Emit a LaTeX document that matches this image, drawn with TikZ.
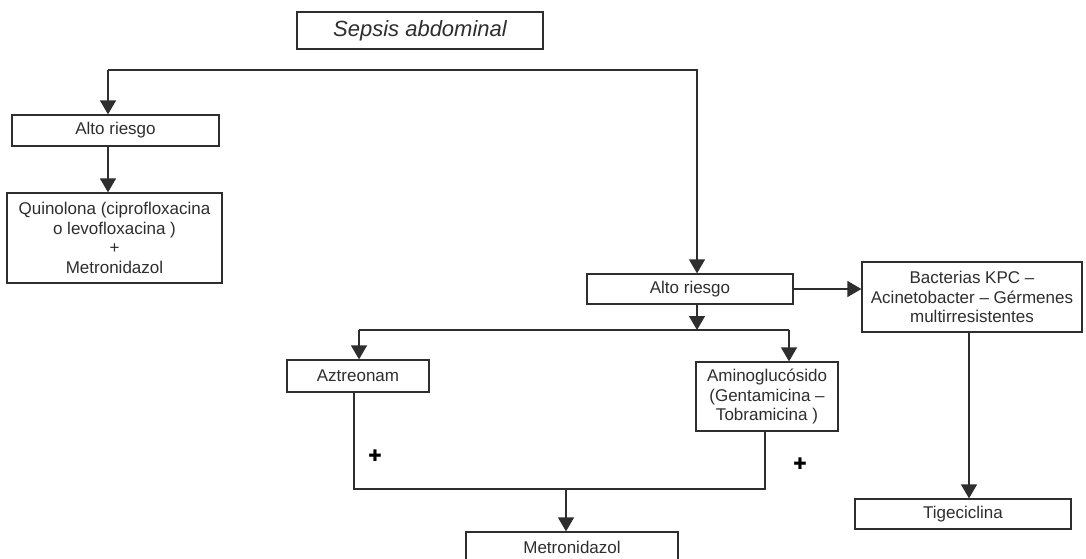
\documentclass[tikz,border=0pt]{standalone}
\usepackage{fontspec}
\setmainfont{Liberation Sans}
\newfontfamily\symfont{DejaVu Sans}
\usetikzlibrary{arrows.meta}
\definecolor{ink}{HTML}{2E2E2E}
\begin{document}
\begin{tikzpicture}[x=1pt,y=-1pt,
  box/.style={draw=ink, line width=1.3pt, text=ink, align=center, inner sep=0pt,
    font=\fontsize{17}{19.5}\selectfont},
  link/.style={draw=ink, line width=1.4pt},
  arr/.style={link, -{Triangle[width=16pt,length=14pt]}},
  plus/.style={text=black, font=\symfont\fontsize{16}{16}\selectfont, inner sep=0pt}]
\clip (0,0) rectangle (1086,559);
\fill[white] (0,0) rectangle (1086,559);

% boxes
\node[box, minimum width=246pt, minimum height=37pt, font=\fontsize{22}{26}\selectfont\itshape]
  (sepsis) at (420,30.5) {Sepsis abdominal};
\node[box, minimum width=207pt, minimum height=31pt] (altoL) at (115.5,130.5) {Alto riesgo};
\node[box, minimum width=215pt, minimum height=90pt] (quin) at (114.5,238)
  {Quinolona (ciprofloxacina\\o levofloxacina )\\+\\Metronidazol};
\node[box, minimum width=206pt, minimum height=30pt] (altoR) at (690,289) {Alto riesgo};
\node[box, minimum width=220pt, minimum height=70pt] (kpc) at (972,297)
  {Bacterias KPC --\\Acinetobacter -- Gérmenes\\multirresistentes};
\node[box, minimum width=142pt, minimum height=32pt] (azt) at (358,376) {Aztreonam};
\node[box, minimum width=142pt, minimum height=69pt] (amino) at (767,396.5)
  {Aminoglucósido\\(Gentamicina --\\Tobramicina )};
\node[box, minimum width=212pt, minimum height=30pt] (metro) at (572,547) {Metronidazol};
\node[box, minimum width=216pt, minimum height=30pt] (tige) at (963,514) {Tigeciclina};

% heavy plus signs beside the combination lines
\node[plus] (p1) at (375,456) {✚};
\node[plus] (p2) at (800,464) {✚};

% connector junctions
\coordinate (tl) at (108,70);
\coordinate (tr) at (697,70);
\coordinate (bl) at (359,330);
\coordinate (br) at (789,330);
\coordinate (jl) at (354,489);
\coordinate (jr) at (765,489);
\coordinate (jm) at (566,489);
\coordinate (kx) at (969,0);

% connectors
\draw[arr] (tl) -- (altoL.north -| tl);
\draw[arr] (tl) -- (tr) -- (altoR.north -| tr);
\draw[arr] (altoL.south -| tl) -- (quin.north -| tl);
\draw[arr] (altoR.east) -- (kpc.west |- altoR.east);
\draw[arr] (altoR.south -| tr) -- (tr |- bl);
\draw[link] (bl) -- (br);
\draw[arr] (bl) -- (azt.north -| bl);
\draw[arr] (br) -- (amino.north -| br);
\draw[link] (azt.south -| jl) -- (jl) -- (jr) -- (amino.south -| jr);
\draw[arr] (jm) -- (metro.north -| jm);
\draw[arr] (kpc.south -| kx) -- (tige.north -| kx);
\end{tikzpicture}
\end{document}
